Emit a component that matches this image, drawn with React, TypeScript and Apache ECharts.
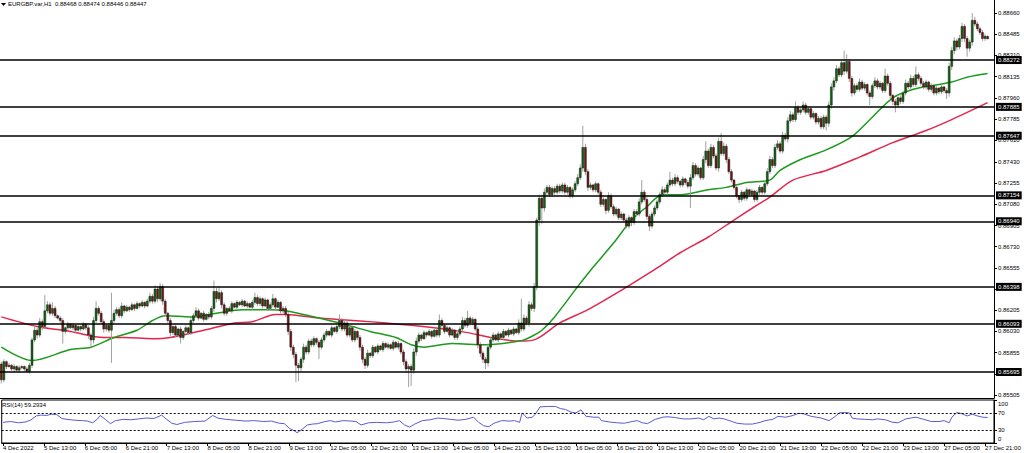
import { useEffect, useRef } from "react";
import * as echarts from "echarts";

// ---- data ----
const titleText = "EURGBP.var,H1  0.88468 0.88474 0.88446 0.88447";
const rsiTitle = "RSI(14) 59.2934";

const firstOpen = 0.8576;
// hourly closes, 4 Dec 21:00 .. 27 Dec 22:00
const closes = [
  .8563,.8578,.8574,.8575,.8572,.8574,.8571,.8573,.8574,.8572,.8570,.8575,.8596,.8604,.8600,.8611,.8607,.8620,.8625,.8618,
  .8622,.8616,.8614,.8612,.8603,.8606,.8609,.8606,.8608,.8604,.8607,.8605,.8609,.8606,.8600,.8596,.8612,.8622,.8618,.8611,
  .8605,.8608,.8604,.8612,.8618,.8621,.8616,.8624,.8620,.8623,.8621,.8625,.8622,.8626,.8624,.8627,.8624,.8628,.8632,.8628,
  .8638,.8630,.8640,.8628,.8618,.8612,.8602,.8607,.8600,.8605,.8598,.8603,.8606,.8602,.8612,.8616,.8620,.8614,.8618,.8613,
  .8617,.8615,.8622,.8636,.8630,.8635,.8625,.8618,.8622,.8620,.8626,.8623,.8627,.8625,.8628,.8624,.8626,.8623,.8627,.8631,
  .8626,.8630,.8624,.8629,.8622,.8625,.8630,.8623,.8627,.8620,.8622,.8617,.8603,.8590,.8584,.8575,.8573,.8580,.8590,.8586,
  .8595,.8592,.8597,.8594,.8590,.8596,.8600,.8603,.8600,.8606,.8603,.8607,.8612,.8605,.8610,.8600,.8606,.8596,.8603,.8598,
  .8590,.8580,.8575,.8585,.8583,.8590,.8586,.8591,.8588,.8593,.8590,.8592,.8589,.8594,.8590,.8593,.8586,.8578,.8572,.8574,
  .8571,.8586,.8595,.8600,.8597,.8602,.8600,.8603,.8599,.8604,.8600,.8612,.8608,.8603,.8606,.8600,.8604,.8598,.8601,.8605,
  .8612,.8608,.8614,.8610,.8613,.8605,.8592,.8585,.8580,.8577,.8590,.8596,.8600,.8596,.8601,.8598,.8603,.8600,.8604,.8601,
  .8605,.8602,.8610,.8605,.8614,.8610,.8625,.8622,.8640,.8695,.8713,.8705,.8718,.8722,.8716,.8721,.8718,.8723,.8719,.8724,
  .8718,.8722,.8715,.8720,.8725,.8730,.8738,.8755,.8735,.8722,.8724,.8720,.8725,.8718,.8708,.8712,.8703,.8715,.8706,.8700,
  .8704,.8697,.8700,.8695,.8690,.8697,.8693,.8702,.8700,.8710,.8718,.8712,.8698,.8690,.8700,.8705,.8710,.8716,.8720,.8718,
  .8724,.8728,.8725,.8730,.8727,.8724,.8729,.8726,.8723,.8730,.8740,.8733,.8738,.8730,.8745,.8752,.8740,.8755,.8748,.8738,
  .8760,.8750,.8756,.8745,.8735,.8728,.8722,.8715,.8712,.8718,.8713,.8720,.8716,.8719,.8712,.8718,.8722,.8718,.8725,.8735,
  .8745,.8740,.8755,.8758,.8752,.8765,.8762,.8777,.8782,.8778,.8788,.8784,.8786,.8790,.8784,.8787,.8780,.8783,.8776,.8779,
  .8772,.8780,.8775,.8790,.8805,.8810,.8820,.8815,.8825,.8818,.8826,.8812,.8800,.8806,.8803,.8809,.8804,.8807,.8800,.8797,
  .8806,.8810,.8805,.8808,.8802,.8814,.8808,.8798,.8793,.8790,.8796,.8793,.8800,.8808,.8805,.8812,.8807,.8815,.8812,.8808,
  .8805,.8809,.8803,.8806,.8800,.8804,.8801,.8805,.8802,.8800,.8822,.8835,.8843,.8838,.8845,.8855,.8845,.8837,.8842,.8860,
  .8857,.8853,.8850,.8845,.88468,.88447,
];
// upper / lower wick lengths in pips (0.0001)
const wickUp = [
  2,2,1,2,1,2,1,2,1,1,2,2,2,3,2,3,2,13,3,2,
  5,2,1,2,2,1,2,1,2,1,2,1,2,1,2,2,3,6,2,2,
  2,1,2,23,3,2,2,3,1,2,1,2,1,2,1,2,1,2,3,2,
  3,2,3,2,2,1,2,1,2,1,2,1,2,1,2,2,3,2,1,2,
  1,2,2,9,3,5,2,2,1,2,2,1,2,1,2,1,2,1,2,4,
  2,2,1,2,1,2,4,1,2,1,2,2,2,2,2,2,2,2,3,2,
  2,2,2,1,2,2,2,2,1,2,1,2,5,2,2,2,2,1,2,1,
  2,2,2,3,1,2,1,2,1,2,1,2,1,2,1,2,1,2,2,2,
  2,3,3,2,1,2,1,2,1,2,1,5,2,1,2,1,2,1,2,2,
  3,2,6,2,2,1,2,2,2,2,3,2,2,1,2,1,2,1,2,1,
  2,1,3,20,3,2,3,2,3,2,3,3,3,2,2,2,2,2,2,2,
  2,2,1,2,2,3,3,18,3,2,2,1,2,1,2,2,1,3,2,2,
  2,1,2,1,2,2,1,2,2,3,10,2,2,2,2,2,2,2,3,2,
  2,7,2,3,2,1,2,1,2,3,3,2,2,1,3,8,2,3,2,2,
  3,7,3,2,2,2,1,2,1,2,1,2,1,2,1,2,2,1,2,3,
  3,2,3,3,2,3,2,3,3,2,5,2,2,3,2,2,1,2,1,2,
  2,2,2,3,3,3,3,2,3,10,6,2,2,2,2,3,2,2,1,2,
  2,3,2,2,1,6,2,2,1,2,2,2,2,3,2,3,2,7,2,2,
  2,2,1,2,1,2,1,2,1,2,3,3,3,2,3,3,2,2,2,6,
  3,2,2,2,2,0.6,
];
const wickDn = [
  3,2,2,1,2,3,1,2,1,2,1,2,2,2,3,2,3,2,2,2,
  2,2,1,2,10,2,2,1,2,2,1,2,1,2,3,6,3,2,2,2,
  3,2,2,27,2,2,2,2,2,1,2,1,2,1,2,1,2,1,2,2,
  2,3,2,3,3,2,3,2,2,2,5,2,1,2,2,2,2,2,1,2,
  1,2,2,3,3,2,3,2,2,1,2,1,2,1,2,1,2,1,2,2,
  2,2,2,1,2,2,2,2,1,2,2,2,3,3,3,14,11,3,3,2,
  2,2,2,2,10,2,2,2,1,2,1,2,2,2,2,2,2,2,2,2,
  3,3,3,2,2,2,1,2,1,2,1,2,1,2,1,2,2,3,3,15,
  13,3,3,2,2,1,2,1,2,1,2,2,2,2,1,2,1,2,2,2,
  2,2,2,2,2,2,3,3,3,5,3,2,2,1,2,1,2,1,2,1,
  2,1,2,2,2,2,3,2,3,3,5,13,3,3,2,2,2,2,2,2,
  2,2,2,2,2,2,2,3,3,3,2,2,2,2,2,2,3,2,2,2,
  2,2,2,2,2,2,3,2,2,2,2,2,3,4,2,2,2,2,2,2,
  2,2,2,2,2,2,2,2,2,18,2,2,2,2,2,3,2,2,2,2,
  3,2,2,3,2,2,2,2,3,2,2,2,2,2,2,2,2,2,2,2,
  2,2,2,2,2,2,2,3,2,2,2,2,2,2,2,2,2,2,2,2,
  2,2,6,3,3,3,2,2,2,3,2,3,3,2,2,2,2,2,2,7,
  2,2,2,2,2,2,2,3,3,6,2,2,2,2,2,2,2,2,2,2,
  2,2,2,2,2,2,2,2,2,5,3,3,3,3,2,3,3,7,3,3,
  2,2,2,2,2,0.1,
];

// moving averages read at sample bars: [bar index, price]
const maGreen = [
  [0,.8590],[12,.8579],[27,.8588],[35,.8590],[44,.8598],[53,.8604],[59,.8612],[64,.8616],[74,.8615],[84,.8618],
  [94,.8621],[105,.8621],[111,.8620],[118,.8617],[130,.8611],[137,.8607],[144,.8603],[154,.8598],[160,.8592],[165,.8590],
  [176,.8593],[189,.8592],[199,.8594],[204,.8596],[208,.8600],[211,.8604],[216,.8615],[225,.8640],[231,.8656],[239,.8676],
  [246,.8695],[252,.8706],[258,.8716],[265,.8716],[276,.8720],[283,.8722],[291,.8726],[300,.8728],[304,.8736],[312,.8745],
  [322,.8753],[332,.8764],[340,.8780],[348,.8796],[356,.8803],[363,.8806],[371,.8809],[377,.8813],[385,.8816],
];
const maRed = [
  [0,.8615],[14,.8607],[27,.8603],[40,.8598],[48,.8598],[59,.8597],[66,.8598],[79,.8604],[91,.8610],[98,.8611],
  [107,.8617],[111,.8617],[124,.8614],[150,.8610],[169,.8606],[182,.8602],[191,.8598],[202,.8595],[208,.8596],[218,.8610],
  [229,.8621],[242,.8637],[255,.8654],[265,.8668],[276,.8681],[286,.8695],[294,.8706],[300,.8714],[309,.8728],[322,.8736],
  [335,.8747],[348,.8759],[361,.8769],[371,.8778],[385,.8792],
];
// RSI(14) read at sample bars: [bar index, value]
const rsi = [
  [0,48],[3,50],[6,47],[9,49],[11,54],[13,63],[15,65],[17,64],[19,67],[21,66],[23,57],[25,55],[28,53],[31,52],[33,51],
  [35,47],[37,56],[38,64],[40,55],[42,45],[44,52],[47,55],[50,54],[53,56],[56,58],[59,57],[61,62],[62,65],[64,55],[66,46],
  [68,43],[71,48],[75,50],[79,51],[82,64],[84,58],[87,55],[91,53],[95,51],[98,52],[102,50],[105,51],[108,46],[110,45],[112,34],
  [114,28],[115,24],[117,32],[119,42],[121,44],[123,45],[126,50],[128,52],[130,49],[133,52],[136,51],[138,50],[140,42],[143,47],[146,48],
  [150,47],[153,49],[155,52],[157,42],[159,37],[161,44],[164,52],[167,54],[170,58],[172,57],[175,55],[178,53],[181,55],[184,60],[186,48],
  [188,40],[190,38],[192,46],[195,52],[198,51],[200,52],[202,48],[203,70],[205,58],[207,60],[208,66],[210,84],[213,85],[216,85],[218,80],
  [220,78],[222,72],[224,70],[226,77],[228,62],[231,60],[233,60],[234,52],[237,49],[240,47],[243,46],[246,50],[248,52],[250,47],[252,45],
  [255,55],[258,60],[260,61],[263,59],[266,56],[269,56],[272,58],[274,54],[276,62],[278,56],[280,58],[282,56],[285,50],[287,46],[290,44],
  [293,44],[296,48],[298,52],[301,55],[303,62],[306,60],[309,64],[311,69],[313,68],[316,62],[318,60],[320,58],[323,52],[325,60],[327,70],
  [329,71],[331,70],[332,58],[334,56],[337,55],[340,54],[342,56],[345,54],[348,48],[350,47],[353,56],[355,58],[357,60],[360,55],[363,50],
  [366,50],[368,52],[370,47],[371,60],[373,71],[375,68],[377,63],[379,67],[381,63],[383,60],[385,59.29],
];

const levels = [0.88272, 0.87885, 0.87647, 0.87154, 0.8694, 0.86398, 0.86093, 0.85695];
const currentPrice = 0.88447;
// tick marks on the price scale; the labels of 0.86380 and 0.85680 sit under the level boxes
const priceTicks = [0.8866, 0.88485, 0.8831, 0.88135, 0.8796, 0.87785, 0.8761, 0.8743, 0.87255, 0.8708,
  0.86905, 0.8673, 0.86555, 0.8638, 0.86205, 0.8603, 0.85855, 0.8568, 0.85505];
const priceLabels = [0.8866, 0.88485, 0.8831, 0.88135, 0.8796, 0.87785, 0.8761, 0.8743, 0.87255, 0.8708,
  0.86905, 0.8673, 0.86555, 0.86205, 0.8603, 0.85855, 0.85505];
const rsiTicks = [100, 70, 30, 0];
const rsiLabels = [100, 70, 30];
const rsiBottomLabel = "0";
const rsiLevels = [70, 30];
const firstDayLabel = "4 Dec 2022";
const firstDay = 4;
const firstHour = 21;
const tradingDays = [5, 6, 7, 8, 9, 12, 13, 14, 15, 16, 19, 20, 21, 22, 23, 27, 28];
const slotCount = 388;

// ---- build ----
const categories: string[] = [];
const pad = (h: number) => (h < 10 ? "0" + h : "" + h);
for (let h = firstHour; h < 24; h++) categories.push(`${firstDay} Dec ${pad(h)}:00`);
for (const d of tradingDays) for (let h = 0; h < 24; h++) categories.push(`${d} Dec ${pad(h)}:00`);
categories.length = slotCount;

const candles = closes.map((c, i) => {
  const o = i === 0 ? firstOpen : closes[i - 1];
  const hi = Math.max(o, c) + wickUp[i] * 0.0001;
  const lo = Math.min(o, c) - wickDn[i] * 0.0001;
  return [i, o, c, lo, hi];
});

const FONT = "'Liberation Sans', Arial, sans-serif";

export default function App() {
  const ref = useRef<HTMLDivElement>(null);
  useEffect(() => {
    if (!ref.current) return;
    const chart = echarts.init(ref.current, undefined, { renderer: "svg" });
    const labelEvery = (i: number) => i % 16 === 0;
    chart.setOption({
      animation: false,
      backgroundColor: "#fff",
      textStyle: { fontFamily: FONT },
      grid: [
        { left: -3.5, top: 0, width: 997.5, height: 398 },
        { left: -3.5, top: 400, width: 997.5, height: 43, show: true, borderColor: "#000", borderWidth: 1 },
      ],
      xAxis: [
        {
          type: "category", gridIndex: 0, data: categories, boundaryGap: true,
          axisLine: { show: true, lineStyle: { color: "#000", width: 1 } },
          axisTick: { show: false }, axisLabel: { show: false }, splitLine: { show: false },
        },
        {
          type: "category", gridIndex: 1, data: categories, boundaryGap: true,
          axisLine: { show: true, lineStyle: { color: "#000", width: 1 } },
          axisTick: { show: true, interval: labelEvery, alignWithLabel: true, length: 3, lineStyle: { color: "#000" } },
          axisLabel: {
            show: true, interval: labelEvery, align: "left", fontSize: 6, color: "#000", margin: 2,
            formatter: (v: string, i: number) => (i === 0 ? firstDayLabel : v),
          },
          splitLine: { show: false },
        },
      ],
      yAxis: [
        {
          type: "value", gridIndex: 0, position: "right", min: 0.8548, max: 0.88768, scale: true,
          axisLine: { show: true, lineStyle: { color: "#000" } },
          axisTick: { show: true, customValues: priceTicks, length: 3, lineStyle: { color: "#000" } },
          axisLabel: { show: true, customValues: priceLabels, fontSize: 6, color: "#000", margin: 4,
            formatter: (v: number) => v.toFixed(5) },
          splitLine: { show: false },
        },
        {
          type: "value", gridIndex: 1, position: "right", min: 0, max: 100,
          axisLine: { show: true, lineStyle: { color: "#000" } },
          axisTick: { show: true, customValues: rsiTicks, length: 3, lineStyle: { color: "#000" } },
          axisLabel: {
            show: true, customValues: rsiLabels, fontSize: 6, color: "#000", margin: 4,
            showMinLabel: true, showMaxLabel: true,
            formatter: (v: number) => (v === 100 ? `{t|${v}}` : `${v}`),
            rich: {
              t: { fontSize: 6, color: "#000", padding: [7, 0, 0, 0] },
            },
          },
          splitLine: { show: false },
        },
      ],
      graphic: [
        { type: "polygon", shape: { points: [[1, 3], [6, 3], [3.5, 6]] }, style: { fill: "#000" } },
        { type: "text", x: 8, y: 1, style: { text: titleText, fontSize: 6, fill: "#000", fontFamily: FONT } },
        { type: "text", x: 2, y: 402, style: { text: rsiTitle, fontSize: 6, fill: "#000", fontFamily: FONT } },
        { type: "text", x: 998, y: 435.5, style: { text: rsiBottomLabel, fontSize: 6, fill: "#000", fontFamily: FONT } },
      ],
      series: [
        {
          type: "line", xAxisIndex: 0, yAxisIndex: 0, data: maRed, showSymbol: false, smooth: 0.3,
          lineStyle: { color: "#e3264d", width: 1.5 }, z: 3,
          markLine: {
            silent: true, symbol: "none", animation: false, precision: 5,
            lineStyle: { color: "#000", width: 1.5, type: "solid" },
            label: {
              show: true, position: "end", distance: 2, fontSize: 6, color: "#fff", backgroundColor: "#000",
              padding: [1, 2, 1, 2], fontFamily: FONT,
              formatter: (p: any) => Number(p.value).toFixed(5),
            },
            data: [
              ...levels.map((v) => ({ yAxis: v })),
              { yAxis: currentPrice, lineStyle: { opacity: 0 } },
            ],
          },
        },
        {
          type: "line", xAxisIndex: 0, yAxisIndex: 0, data: maGreen, showSymbol: false, smooth: 0.3,
          lineStyle: { color: "#1c9a1c", width: 1.5 }, z: 3,
        },
        {
          type: "custom", xAxisIndex: 0, yAxisIndex: 0, data: candles, z: 4,
          encode: { x: 0, y: [1, 2, 3, 4] },
          renderItem: (_p: any, api: any) => {
            const i = api.value(0);
            const o = api.value(1), c = api.value(2), lo = api.value(3), hi = api.value(4);
            const pO = api.coord([i, o]);
            const pC = api.coord([i, c]);
            const pL = api.coord([i, lo]);
            const pH = api.coord([i, hi]);
            const w = api.size([1, 0])[0] * 0.75;
            const top = Math.min(pO[1], pC[1]);
            const bh = Math.max(1, Math.abs(pO[1] - pC[1]));
            const up = c >= o;
            return {
              type: "group",
              children: [
                { type: "line", shape: { x1: pL[0], y1: pL[1], x2: pH[0], y2: pH[1] },
                  style: { stroke: "#a0a0a0", lineWidth: 1 } },
                { type: "rect", shape: { x: pO[0] - w / 2, y: top, width: w, height: bh },
                  style: { fill: up ? "#0c6a0c" : "#781212", stroke: "#1a1a1a", lineWidth: 0.5 } },
              ],
            };
          },
        },
        {
          type: "line", xAxisIndex: 1, yAxisIndex: 1, data: rsi, showSymbol: false,
          lineStyle: { color: "#5a5ad2", width: 1 },
          markLine: {
            silent: true, symbol: "none", animation: false, label: { show: false },
            lineStyle: { color: "#000", width: 1, type: [2, 2] },
            data: rsiLevels.map((v) => ({ yAxis: v })),
          },
        },
      ],
    });
    return () => chart.dispose();
  }, []);
  return (
    <div
      ref={ref}
      style={{ position: "fixed", left: 0, top: 0, width: 1024, height: 453, background: "#fff" }}
    />
  );
}
